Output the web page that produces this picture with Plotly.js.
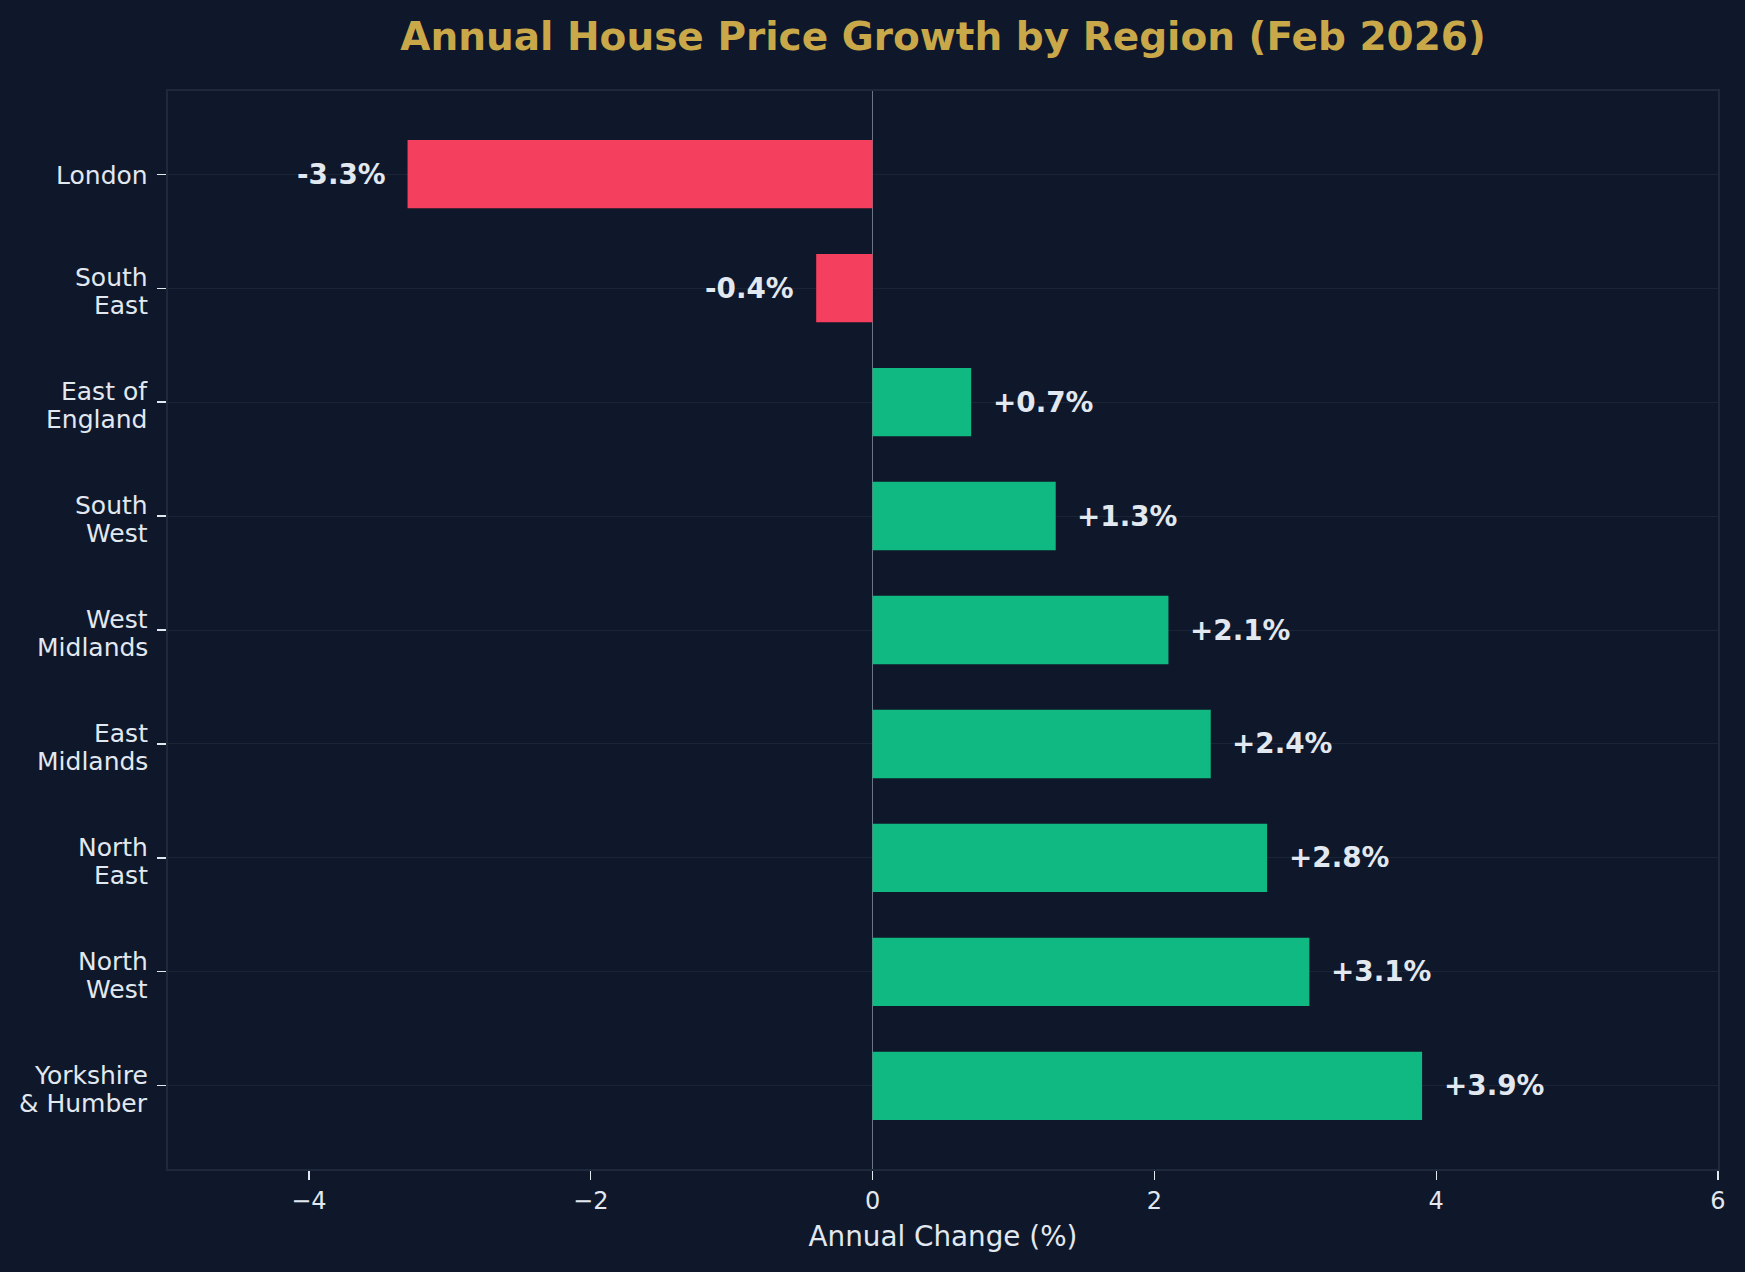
<!DOCTYPE html>
<html>
<head>
<meta charset="utf-8">
<script src="https://cdn.plot.ly/plotly-3.0.1.min.js"></script>
<style>
  html, body { margin: 0; padding: 0; background: #0f172a; }
  #chart { width: 1745px; height: 1272px; }
</style>
</head>
<body>
<div id="chart"></div>
<script>
// Regional annual house price change, February 2026
const regions = [
  "London", "South East", "East of England", "South West", "West Midlands",
  "East Midlands", "North East", "North West", "Yorkshire & Humber"
];
const regionLabels = [
  ["London"], ["South", "East"], ["East of", "England"], ["South", "West"], ["West", "Midlands"],
  ["East", "Midlands"], ["North", "East"], ["North", "West"], ["Yorkshire", "& Humber"]
];
const annualChange = [-3.3, -0.4, 0.7, 1.3, 2.1, 2.4, 2.8, 3.1, 3.9];
const xTicks = [-4, -2, 0, 2, 4, 6];

const FONT = "DejaVu Sans, Verdana, sans-serif";
const TEXT = "#e2e8f0";
const UP = "#10b981";
const DOWN = "#f43f5e";

const barColors = annualChange.map(v => (v < 0 ? DOWN : UP));

const bars = {
  type: "bar",
  orientation: "h",
  x: annualChange,
  y: regions,
  width: 0.6,
  marker: { color: barColors, line: { width: 0 } },
  hoverinfo: "skip",
  showlegend: false
};

// value labels sit just beyond the end of each bar
const labelGap = 0.14;
const valueLabels = annualChange.map((v, i) => ({
  x: v < 0 ? v - labelGap : v + labelGap,
  y: regions[i],
  xref: "x",
  yref: "y",
  text: (v < 0 ? "-" : "+") + Math.abs(v).toFixed(1) + "%",
  xanchor: v < 0 ? "right" : "left",
  yanchor: "middle",
  showarrow: false,
  font: { family: FONT, size: 27.8, color: TEXT, weight: "bold" }
}));

// region names to the left of the y ticks, one line per annotation
// so the two-line names keep a tight line spacing
const LINE_STEP = 28;
const regionNameLabels = [];
regionLabels.forEach((lines, i) => {
  const n = lines.length;
  const drop = n > 1 ? 3.5 : 1.5;
  lines.forEach((line, k) => {
    const offset = (k - (n - 1) / 2) * LINE_STEP + drop;
    regionNameLabels.push({
      x: 0,
      xref: "paper",
      y: regions[i],
      yref: "y",
      text: line,
      xanchor: "right",
      yanchor: "middle",
      xshift: -18,
      yshift: -offset,
      showarrow: false,
      font: { family: FONT, size: 25, color: TEXT }
    });
  });
});

const layout = {
  width: 1745,
  height: 1272,
  paper_bgcolor: "#0f172a",
  plot_bgcolor: "#0f172a",
  margin: { l: 168, r: 27, t: 91, b: 103 },
  font: { family: FONT, color: TEXT },
  title: {
    text: "<b>Annual House Price Growth by Region (Feb 2026)</b>",
    font: { family: FONT, size: 39, color: "#c9a84a" },
    x: 0.5,
    xref: "paper",
    xanchor: "center",
    y: 0.9715,
    yref: "container",
    yanchor: "middle"
  },
  xaxis: {
    range: [-5, 6],
    tickvals: xTicks,
    ticks: "outside",
    ticklen: 9,
    tickwidth: 1.2,
    tickcolor: TEXT,
    tickfont: { family: FONT, size: 24, color: TEXT },
    showgrid: false,
    zeroline: true,
    zerolinecolor: "#6b7585",
    zerolinewidth: 1.5,
    showline: true,
    mirror: true,
    linecolor: "#1e293b",
    linewidth: 2,
    title: {
      text: "Annual Change (%)",
      font: { family: FONT, size: 27.8, color: TEXT },
      standoff: 13
    }
  },
  yaxis: {
    type: "category",
    range: [8.73, -0.73],
    tickvals: regions,
    showticklabels: false,
    ticks: "outside",
    ticklen: 9,
    tickwidth: 1.2,
    tickcolor: TEXT,
    showgrid: true,
    gridcolor: "#1b2436",
    gridwidth: 1,
    showline: true,
    mirror: true,
    linecolor: "#1e293b",
    linewidth: 2
  },
  annotations: valueLabels.concat(regionNameLabels),
  bargap: 0.4
};

Plotly.newPlot("chart", [bars], layout, { displayModeBar: false, staticPlot: true });
</script>
</body>
</html>
